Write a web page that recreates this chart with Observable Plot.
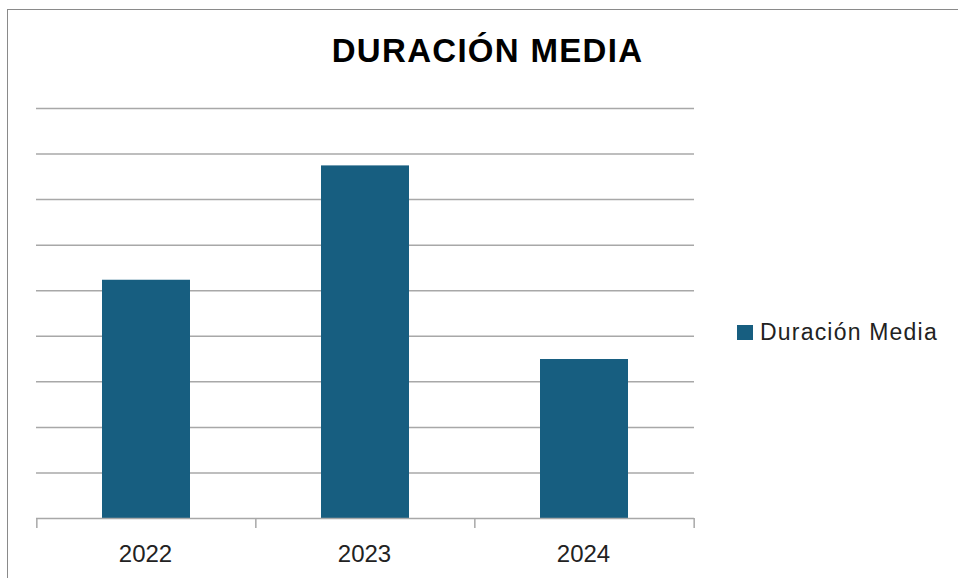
<!DOCTYPE html>
<html>
<head>
<meta charset="utf-8">
<script src="https://cdn.jsdelivr.net/npm/d3@7"></script>
<script src="https://cdn.jsdelivr.net/npm/@observablehq/plot@0.6"></script>
<style>
  html, body { margin: 0; padding: 0; background: #fff; overflow: hidden; }
  #wrap { position: relative; width: 958px; height: 578px; overflow: hidden; font-family: "Liberation Sans", Arial, sans-serif; }
  #frame { position: absolute; left: 7px; top: 9px; width: 1000px; height: 700px; border: 1.5px solid #8a8a8a; box-sizing: border-box; }
  #title { position: absolute; left: 0; width: 975px; top: 32px; text-align: center; font-family: "Liberation Sans", Arial, sans-serif; font-weight: bold; font-size: 33px; color: #000; letter-spacing: 1.3px; }
  #legend { position: absolute; left: 737px; top: 319px; display: flex; align-items: center; font-size: 23px; color: #222; letter-spacing: 1.2px; }
  #legend .sw { width: 16px; height: 15px; margin-right: 7px; }
  #chart { position: absolute; left: 0; top: 0; }
</style>
</head>
<body>
<div id="wrap">
  <div id="frame"></div>
  <div id="chart"></div>
  <div id="title"></div>
  <div id="legend"></div>
</div>
<script>
const title = "DURACIÓN MEDIA";
const seriesName = "Duración Media";
const years = ["2022", "2023", "2024"];
const values = [5.23, 7.74, 3.49];
const gridTicks = [1, 2, 3, 4, 5, 6, 7, 8, 9];
const barColor = "#175e80";

const data = years.map((y, i) => ({year: y, value: values[i]}));

const W = 958, H = 578, mL = 36, mR = 264, mT = 108, mB = 60;
const step = (W - mL - mR) / years.length;

const chart = Plot.plot({
  width: W,
  height: H,
  marginLeft: mL,
  marginRight: mR,
  marginTop: mT,
  marginBottom: mB,
  style: {fontFamily: "'Liberation Sans', Arial, sans-serif", background: "transparent"},
  x: {type: "band", domain: years, paddingInner: 0.6, paddingOuter: 0.3, label: null},
  y: {domain: [0, 9], axis: null},
  marks: [
    Plot.ruleY(gridTicks, {stroke: "#a8a8a8", strokeWidth: 1.5}),
    Plot.barY(data, {x: "year", y: "value", fill: barColor}),
    Plot.ruleY([0], {stroke: "#a8a8a8", strokeWidth: 1.5}),
    Plot.ruleX(years, {x: d => d, y1: 0, y2: 0, dx: -step / 2, insetBottom: -10, stroke: "#a8a8a8", strokeWidth: 1.5}),
    Plot.ruleX(years.slice(-1), {x: d => d, y1: 0, y2: 0, dx: step / 2, insetBottom: -10, stroke: "#a8a8a8", strokeWidth: 1.5}),
    Plot.axisX({tickSize: 0, tickPadding: 26, fontSize: 24, dx: -1, fill: "#222", label: null})
  ]
});
document.getElementById("chart").appendChild(chart);
document.getElementById("title").textContent = title;
const lg = document.getElementById("legend");
const sw = document.createElement("span");
sw.className = "sw";
sw.style.background = barColor;
const lt = document.createElement("span");
lt.textContent = seriesName;
lg.appendChild(sw);
lg.appendChild(lt);
</script>
</body>
</html>
